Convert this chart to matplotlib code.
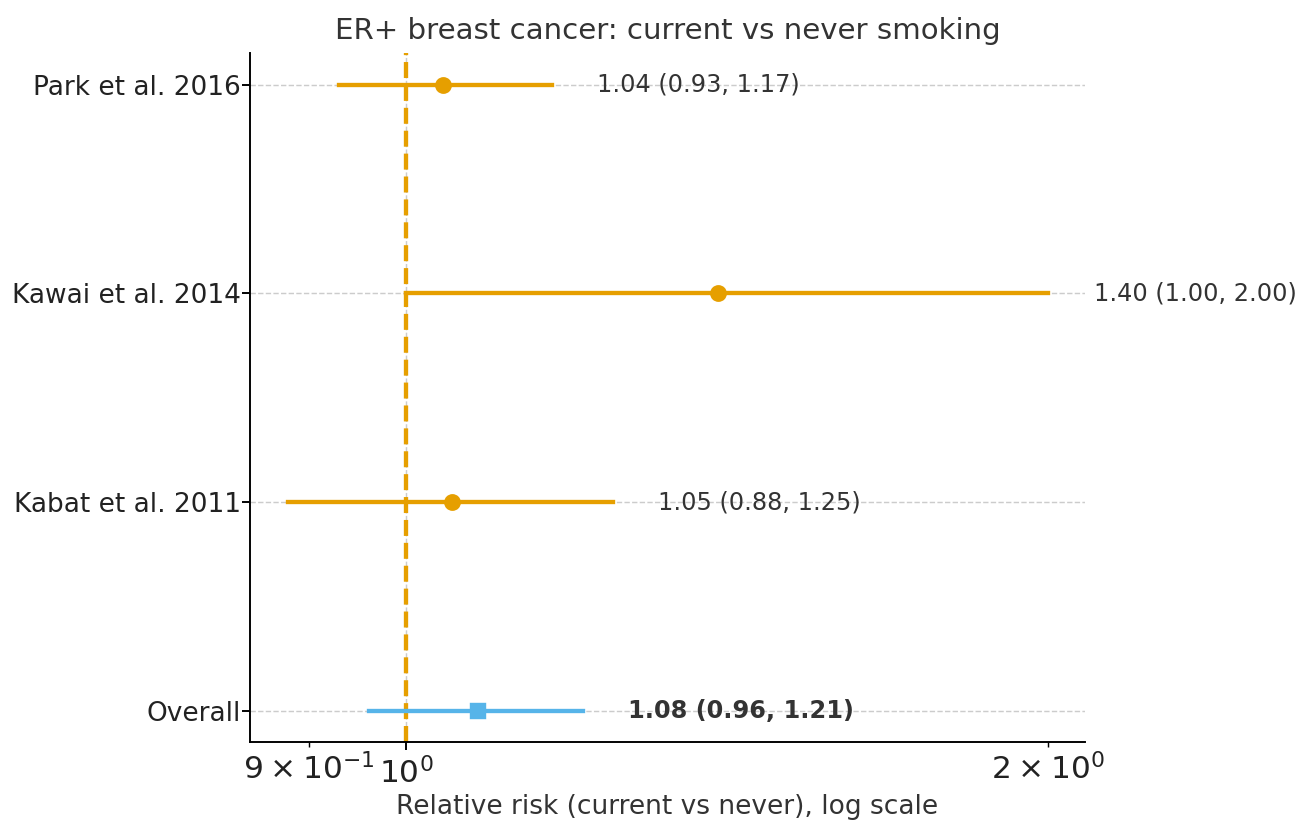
# Forest plot: ER+ breast cancer, current vs never smoking

import math

import matplotlib.pyplot as plt
from matplotlib.ticker import FuncFormatter

ORANGE = "#E69F00"
BLUE = "#56B4E9"

studies = ["Park et al. 2016", "Kawai et al. 2014", "Kabat et al. 2011"]
rr = [1.04, 1.40, 1.05]
ci_low = [0.93, 1.00, 0.88]
ci_high = [1.17, 2.00, 1.25]

overall_label = "Overall"
overall_rr = 1.08
overall_low = 0.96
overall_high = 1.21


def sci_label(x, pos=None):
    # log tick label like 9 x 10^-1, with spacing round the times sign
    exp = math.floor(math.log10(x) + 1e-9)
    coeff = round(x / 10 ** exp)
    if coeff == 1:
        return r"$\mathdefault{10^{%d}}$" % exp
    return r"$\mathdefault{%d\:\times\:10^{%d}}$" % (coeff, exp)


fig, ax = plt.subplots(figsize=(1296 / 172.8, 821 / 172.8), dpi=172.8)
fig.subplots_adjust(left=0.193, right=0.837, bottom=0.096, top=0.935)

n = len(studies)
ypos = list(range(n, 0, -1))

# Study rows
for y, est, lo, hi in zip(ypos, rr, ci_low, ci_high):
    ax.plot([lo, hi], [y, y], color=ORANGE, linewidth=1.8, zorder=3)
    ax.plot(est, y, "o", color=ORANGE, markersize=6, zorder=4)
    ax.text(hi * 1.05, y, f"{est:.2f} ({lo:.2f}, {hi:.2f})",
            va="center", ha="left", fontsize=10, color="#333333", clip_on=False)

# Pooled estimate
ax.plot([overall_low, overall_high], [0, 0], color=BLUE, linewidth=1.8, zorder=3)
ax.plot(overall_rr, 0, "s", color=BLUE, markersize=5.5, zorder=4)
ax.text(overall_high * 1.05, 0,
        f"{overall_rr:.2f} ({overall_low:.2f}, {overall_high:.2f})",
        va="center", ha="left", fontsize=10, fontweight="bold", color="#333333")

# Null line
ax.axvline(1.0, color=ORANGE, linestyle="--", linewidth=1.8, zorder=2)

ax.set_xscale("log")
ax.set_xlim(min(ci_low) * 0.96, max(ci_high) * 1.04)
ax.set_ylim(-0.15, n + 0.15)
ax.xaxis.set_major_formatter(FuncFormatter(sci_label))
ax.xaxis.set_minor_formatter(FuncFormatter(sci_label))

ax.set_yticks(ypos + [0])
ax.set_yticklabels(studies + [overall_label])
ax.tick_params(axis="y", labelsize=11, labelcolor="#222222", pad=0.5)
ax.tick_params(axis="x", which="both", labelsize=13, labelcolor="#222222", pad=2.5)

ax.grid(True, which="major", linestyle="--", linewidth=0.6, color="#cccccc")
ax.set_axisbelow(True)
ax.spines["top"].set_visible(False)
ax.spines["right"].set_visible(False)

ax.set_xlabel("Relative risk (current vs never), log scale", fontsize=11,
              color="#333333", labelpad=2)
ax.set_title("ER+ breast cancer: current vs never smoking", fontsize=12.2, color="#333333")

fig.savefig("out.png", dpi=172.8)
